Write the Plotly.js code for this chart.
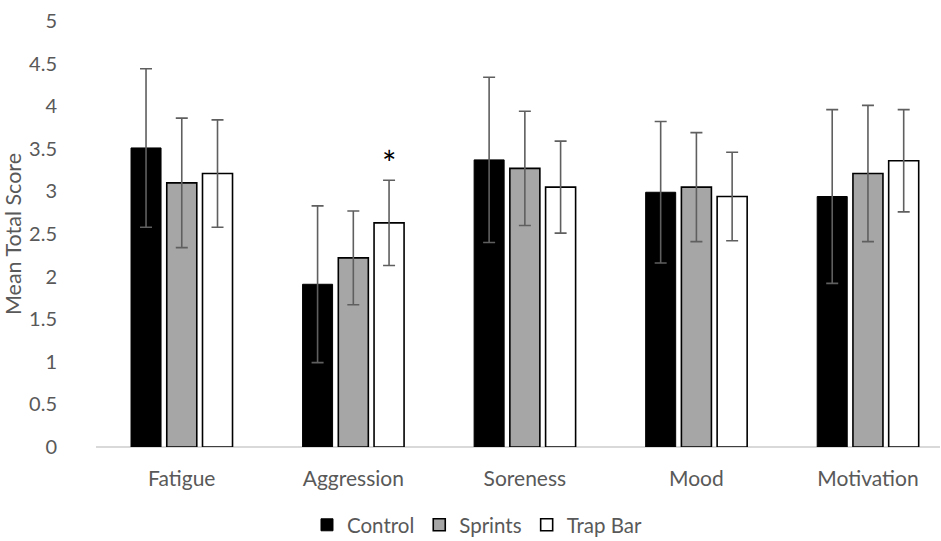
<!DOCTYPE html>
<html>
<head>
<meta charset="utf-8">
<script src="https://cdn.plot.ly/plotly-3.0.1.min.js"></script>
<style>
  html, body { margin: 0; padding: 0; background: #ffffff; }
  #chart { width: 941px; height: 541px; }
</style>
</head>
<body>
<div id="chart"></div>
<script>
// Mood-state scores per condition (mean and SD)
const categories = ['Fatigue', 'Aggression', 'Soreness', 'Mood', 'Motivation'];

const controlMean = [3.51, 1.91, 3.37, 2.99, 2.94];
const controlSD   = [0.93, 0.92, 0.97, 0.83, 1.02];

const sprintsMean = [3.10, 2.22, 3.27, 3.05, 3.21];
const sprintsSD   = [0.76, 0.55, 0.67, 0.64, 0.80];

const trapBarMean = [3.21, 2.63, 3.05, 2.94, 3.36];
const trapBarSD   = [0.63, 0.50, 0.54, 0.52, 0.60];

const seriesNames = ['Control', 'Sprints', 'Trap Bar'];

// Significance marker: category index and the series it sits over
const markCategory = 1;
const markLabel = '*';

const textColor = '#595959';
const font = 'Lato, "Open Sans", "Liberation Sans", sans-serif';

function errBars(sd) {
  return { type: 'data', array: sd, visible: true, color: '#5f5f5f', thickness: 1.6, width: 6 };
}

const traces = [
  {
    type: 'bar', name: seriesNames[0], x: categories, y: controlMean,
    marker: { color: '#000000', line: { color: '#000000', width: 1 } },
    error_y: errBars(controlSD)
  },
  {
    type: 'bar', name: seriesNames[1], x: categories, y: sprintsMean,
    marker: { color: '#a6a6a6', line: { color: '#000000', width: 1.6 } },
    error_y: errBars(sprintsSD)
  },
  {
    type: 'bar', name: seriesNames[2], x: categories, y: trapBarMean,
    marker: { color: '#ffffff', line: { color: '#000000', width: 1.6 } },
    error_y: errBars(trapBarSD)
  }
];

const bargap = 0.375;
const slot = (1 - bargap) / 3;

const layout = {
  width: 941, height: 541,
  margin: { l: 96, r: 1, t: 21, b: 94, autoexpand: false },
  paper_bgcolor: '#ffffff', plot_bgcolor: '#ffffff',
  font: { family: font, color: textColor, size: 20 },
  barmode: 'group',
  bargap: bargap,
  bargroupgap: 0.16,
  showlegend: true,
  legend: {
    orientation: 'h', x: 0.452, xanchor: 'center', y: -0.183, yanchor: 'middle',
    font: { size: 20.5, color: textColor }, traceorder: 'normal',
    itemwidth: 30
  },
  xaxis: {
    type: 'category',
    range: [-0.5, 4.42],
    automargin: false,
    showgrid: false, showline: false, zeroline: false,
    ticks: '', tickfont: { size: 21, color: textColor },
    ticklabelstandoff: 17
  },
  yaxis: {
    range: [0, 5], dtick: 0.5, tickformat: '',
    automargin: false,
    showgrid: false, showline: false,
    zeroline: true, zerolinecolor: '#d9d9d9', zerolinewidth: 1.5,
    ticks: '', tickfont: { size: 20, color: textColor },
    ticklabelstandoff: 38,
    title: { text: 'Mean Total Score', font: { size: 21.5, color: textColor }, standoff: 4 }
  },
  annotations: [
    {
      x: markCategory + slot, y: trapBarMean[markCategory] + trapBarSD[markCategory],
      xref: 'x', yref: 'y', text: markLabel, showarrow: false,
      yanchor: 'bottom', yshift: -5,
      font: { size: 34, color: '#000000', family: font }
    }
  ]
};

Plotly.newPlot('chart', traces, layout, { displayModeBar: false, staticPlot: true });
</script>
</body>
</html>
